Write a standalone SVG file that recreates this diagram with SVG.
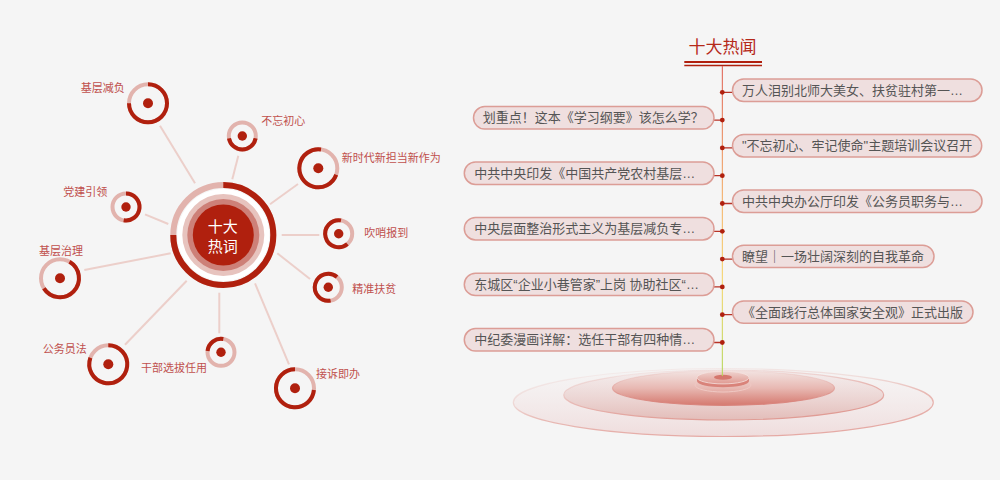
<svg xmlns="http://www.w3.org/2000/svg" width="1000" height="480" viewBox="0 0 1000 480">
<style>
text{font-family:"Liberation Sans","Noto Sans CJK SC",sans-serif}
.lbl{font-size:11px;fill:#c0504d;dominant-baseline:central}
.tr{fill:none;stroke:#e2b3ad;stroke-width:4}
.ar{fill:none;stroke:#b0200e;stroke-width:4}
.dot{fill:#b0200e}
.link{stroke:#eccfca;stroke-width:2;fill:none}
.pill{fill:#efdfdf;stroke:#dc9d96;stroke-width:1.5}
.pt{font-size:13px;fill:#555;dominant-baseline:central}
.tick{stroke:#b83226;stroke-width:1.3;fill:none}
.td{fill:#b0200e}
</style>
<defs>
<linearGradient id="axis" x1="0" y1="0" x2="0" y2="1"><stop offset="0" stop-color="#e0665a"/><stop offset=".45" stop-color="#f5b56c"/><stop offset=".7" stop-color="#f5d76e"/><stop offset="1" stop-color="#b5d65a"/></linearGradient>
<linearGradient id="e1" x1="0" y1="0" x2="0" y2="1"><stop offset="0" stop-color="#f5eeee" stop-opacity=".2"/><stop offset="1" stop-color="#efdcdc"/></linearGradient>
<linearGradient id="e1s" x1="0" y1="0" x2=".45" y2="1"><stop offset="0" stop-color="#e8b5b0" stop-opacity="0"/><stop offset=".4" stop-color="#eac6c2" stop-opacity=".5"/><stop offset=".65" stop-color="#e8bab5"/><stop offset="1" stop-color="#e5aaa5"/></linearGradient>
<linearGradient id="e2" x1="0" y1="0" x2="0" y2="1"><stop offset="0" stop-color="#f2e6e6" stop-opacity=".5"/><stop offset="1" stop-color="#e3bdb9"/></linearGradient>
<linearGradient id="e2s" x1="0" y1="0" x2=".45" y2="1"><stop offset="0" stop-color="#e29c95" stop-opacity="0"/><stop offset=".4" stop-color="#e6b2ad" stop-opacity=".5"/><stop offset=".65" stop-color="#e6b2ad"/><stop offset="1" stop-color="#e09c95"/></linearGradient>
<linearGradient id="e3" x1="0" y1="0" x2="0" y2="1"><stop offset="0" stop-color="#f2e3e1"/><stop offset=".5" stop-color="#e8b9b3"/><stop offset="1" stop-color="#d5796f"/></linearGradient>
<linearGradient id="e3s" x1="0" y1="0" x2="0" y2="1"><stop offset="0" stop-color="#e29c95" stop-opacity=".1"/><stop offset="1" stop-color="#d8827a"/></linearGradient>
<linearGradient id="e4" x1="0" y1="0" x2="0" y2="1"><stop offset="0" stop-color="#efd3cf"/><stop offset="1" stop-color="#e09a92"/></linearGradient>
</defs>
<rect width="1000" height="480" fill="#f5f5f5"/>
<g id="links">
<line class="link" x1="160" y1="125.7" x2="195" y2="183.3"/>
<line class="link" x1="145" y1="214.3" x2="168.3" y2="224"/>
<line class="link" x1="238.3" y1="155.7" x2="232.3" y2="179.3"/>
<line class="link" x1="298" y1="184" x2="270" y2="204.3"/>
<line class="link" x1="281.7" y1="235" x2="319.3" y2="235"/>
<line class="link" x1="277.3" y1="253.3" x2="310" y2="279"/>
<line class="link" x1="255" y1="283.3" x2="289" y2="364.3"/>
<line class="link" x1="219.3" y1="292.7" x2="219.3" y2="333.3"/>
<line class="link" x1="186.7" y1="280.7" x2="125" y2="344.7"/>
<line class="link" x1="170.7" y1="253.3" x2="84.3" y2="270"/>
</g>
<g id="hub">
<circle cx="223.3" cy="235" r="46" fill="#fff"/>
<circle cx="223.3" cy="235" r="41" fill="#e7c3be"/>
<circle cx="223.3" cy="235" r="36" fill="#cd8078"/>
<circle cx="223.3" cy="235" r="30.5" fill="#b0200e"/>
<circle class="tr" style="stroke-width:6" cx="223.3" cy="235" r="50"/>
<path class="ar" style="stroke-width:6" d="M223.3 185A50 50 0 1 1 173.3 235"/>
<text x="222.8" y="226.7" font-size="15" fill="#fff" text-anchor="middle" dominant-baseline="central">十大</text>
<text x="222.8" y="246" font-size="15" fill="#fff" text-anchor="middle" dominant-baseline="central">热词</text>
</g>
<g id="n1"><circle class="tr" cx="148" cy="103.3" r="19"/><path class="ar" d="M148 84.3A19 19 0 1 1 129 103.3"/><circle class="dot" cx="148" cy="103.3" r="5"/><text class="lbl" x="80.7" y="88.3">基层减负</text></g>
<g id="n2"><circle class="tr" cx="242.3" cy="136" r="13.5"/><path class="ar" d="M255.6 138.3A13.5 13.5 0 0 1 229 138.3"/><circle class="dot" cx="242.3" cy="136" r="4.7"/><text class="lbl" x="261.3" y="120.7">不忘初心</text></g>
<g id="n3"><circle class="tr" cx="318.3" cy="168.3" r="19"/><path class="ar" d="M336.2 174.8A19 19 0 1 1 321 149.5"/><circle class="dot" cx="318.3" cy="168.3" r="5"/><text class="lbl" x="341.7" y="157.7">新时代新担当新作为</text></g>
<g id="n4"><circle class="tr" cx="338.7" cy="233.7" r="13.5"/><path class="ar" d="M347.4 244A13.5 13.5 0 1 1 341 220.4"/><circle class="dot" cx="338.7" cy="233.7" r="4.7"/><text class="lbl" x="364.3" y="232.7">吹哨报到</text></g>
<g id="n5"><circle class="tr" cx="328.3" cy="287.3" r="13.5"/><path class="ar" d="M330.6 300.6A13.5 13.5 0 1 1 337 277"/><circle class="dot" cx="328.3" cy="287.3" r="4.7"/><text class="lbl" x="352.3" y="289.3">精准扶贫</text></g>
<g id="n6"><circle class="tr" cx="295" cy="388.3" r="19"/><path class="ar" d="M313.9 390A19 19 0 1 1 295 369.3"/><circle class="dot" cx="295" cy="388.3" r="5"/><text class="lbl" x="316" y="373.7">接诉即办</text></g>
<g id="n7"><circle class="tr" cx="221" cy="352.3" r="13.5"/><path class="ar" d="M207.6 351A13.5 13.5 0 0 1 223.3 339"/><circle class="dot" cx="221" cy="352.3" r="4.7"/><text class="lbl" x="141" y="368.3">干部选拔任用</text></g>
<g id="n8"><circle class="tr" cx="108.3" cy="364.3" r="19"/><path class="ar" d="M108.3 345.3A19 19 0 1 1 90.4 357.8"/><circle class="dot" cx="108.3" cy="364.3" r="5"/><text class="lbl" x="42.7" y="349">公务员法</text></g>
<g id="n9"><circle class="tr" cx="60" cy="278.3" r="19"/><path class="ar" d="M69.5 261.8A19 19 0 1 1 43.9 288.4"/><circle class="dot" cx="60" cy="278.3" r="5"/><text class="lbl" x="39" y="251">基层治理</text></g>
<g id="n10"><circle class="tr" cx="126" cy="207" r="13.5"/><path class="ar" d="M126 193.5A13.5 13.5 0 1 1 123.7 220.3"/><circle class="dot" cx="126" cy="207" r="4.7"/><text class="lbl" x="63.3" y="192">党建引领</text></g>
<g id="platform">
<ellipse cx="723.3" cy="402.5" rx="210" ry="34" fill="url(#e1)" stroke="url(#e1s)" stroke-width="1.2"/>
<ellipse cx="723.7" cy="395" rx="160" ry="25" fill="url(#e2)" stroke="url(#e2s)" stroke-width="1.2"/>
<ellipse cx="723.5" cy="388" rx="111" ry="17.3" fill="url(#e3)" stroke="url(#e3s)" stroke-width="1.2"/>
<ellipse cx="723" cy="385" rx="28" ry="7" fill="none" stroke="#f0c9c4"/>
<path d="M697 378V381A26 6.3 0 0 0 749 381V378Z" fill="#d9837a"/>
<ellipse cx="723" cy="377.6" rx="26" ry="6.3" fill="url(#e4)" stroke="#f5e2df" stroke-width=".8"/>
<ellipse cx="723" cy="377.2" rx="9" ry="2.5" fill="#d5776d"/>
</g>
<g id="title">
<text x="722.5" y="47.3" font-size="17" fill="#b5291a" text-anchor="middle" dominant-baseline="central">十大热闻</text>
<path d="M684.3 62H762" stroke="#b0200e" stroke-width="1.8" fill="none"/>
<path d="M684.3 65.4H762" stroke="#b0200e" stroke-width="1.5" fill="none"/>
</g>
<g id="connectors">
<rect x="721.8" y="66" width="1.1" height="310" fill="url(#axis)"/>
<path class="tick" d="M722.3 92.3H733M714 120.1H722.3M722.3 147.9H733M714 175.7H722.3M722.3 203.5H733M714 231.3H722.3M722.3 259.1H733M714 286.9H722.3M722.3 314.7H733M714 342.5H722.3"/>
<circle class="td" cx="722.3" cy="92.3" r="2.4"/><circle class="td" cx="722.3" cy="120.1" r="2.4"/><circle class="td" cx="722.3" cy="147.9" r="2.4"/><circle class="td" cx="722.3" cy="175.7" r="2.4"/><circle class="td" cx="722.3" cy="203.5" r="2.4"/><circle class="td" cx="722.3" cy="231.3" r="2.4"/><circle class="td" cx="722.3" cy="259.1" r="2.4"/><circle class="td" cx="722.3" cy="286.9" r="2.4"/><circle class="td" cx="722.3" cy="314.7" r="2.4"/><circle class="td" cx="722.3" cy="342.5" r="2.4"/>
</g>
<g id="p1"><rect class="pill" x="732.5" y="79" width="249.5" height="22.4" rx="11.2"/><text class="pt" x="742" y="90.2">万人泪别北师大美女、扶贫驻村第一…</text></g>
<g id="p2"><rect class="pill" x="473.5" y="106.6" width="240.5" height="22.4" rx="11.2"/><text class="pt" x="482.7" y="117.8">划重点！这本《学习纲要》该怎么学？</text></g>
<g id="p3"><rect class="pill" x="732.5" y="134.5" width="249.2" height="22.4" rx="11.2"/><text class="pt" x="742" y="145.7">"不忘初心、牢记使命"主题培训会议召开</text></g>
<g id="p4"><rect class="pill" x="464.3" y="162" width="249.7" height="22.4" rx="11.2"/><text class="pt" x="474.3" y="173.2">中共中央印发《中国共产党农村基层…</text></g>
<g id="p5"><rect class="pill" x="732.5" y="190" width="249.5" height="22.4" rx="11.2"/><text class="pt" x="742" y="201.2">中共中央办公厅印发《公务员职务与…</text></g>
<g id="p6"><rect class="pill" x="464.3" y="217.5" width="249.7" height="22.4" rx="11.2"/><text class="pt" x="474.3" y="228.7">中央层面整治形式主义为基层减负专…</text></g>
<g id="p7"><rect class="pill" x="732.5" y="245.2" width="201.5" height="22.4" rx="11.2"/><text class="pt" x="742" y="256.4">瞭望｜一场壮阔深刻的自我革命</text></g>
<g id="p8"><rect class="pill" x="464.3" y="273.2" width="249.7" height="22.4" rx="11.2"/><text class="pt" x="474.3" y="284.4">东城区“企业小巷管家”上岗 协助社区“…</text></g>
<g id="p9"><rect class="pill" x="732.5" y="300.9" width="240.5" height="22.4" rx="11.2"/><text class="pt" x="742" y="312.1">《全面践行总体国家安全观》正式出版</text></g>
<g id="p10"><rect class="pill" x="464.3" y="328.6" width="249.7" height="22.4" rx="11.2"/><text class="pt" x="474.3" y="339.8">中纪委漫画详解：选任干部有四种情…</text></g>
</svg>
